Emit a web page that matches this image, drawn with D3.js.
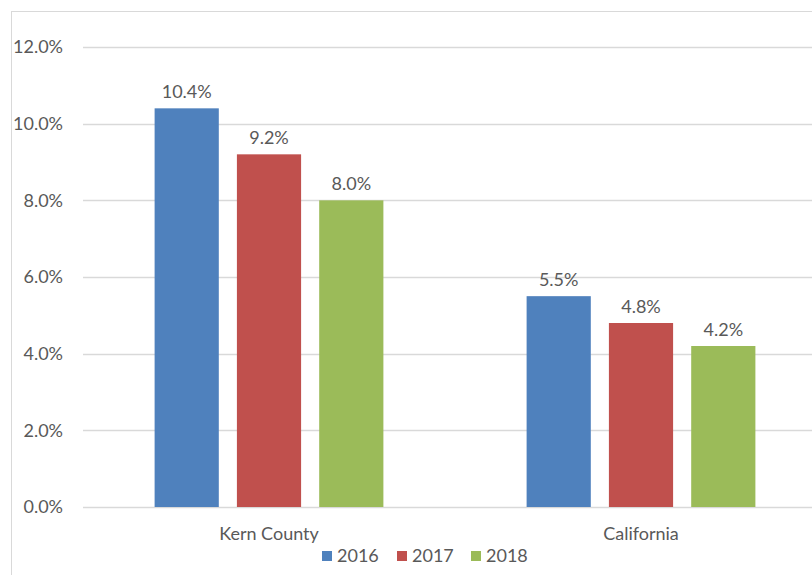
<!DOCTYPE html>
<html>
<head>
<meta charset="utf-8">
<script src="https://cdn.jsdelivr.net/npm/d3@7"></script>
<style>
  body { margin: 0; background: #fff; }
  text { font-family: Lato, "Open Sans", sans-serif; fill: #595959; }
</style>
</head>
<body>
<svg id="chart" width="812" height="575"></svg>
<script>
const categories = ["Kern County", "California"];
const years = ["2016", "2017", "2018"];
const values2016 = [10.4, 5.5];
const values2017 = [9.2, 4.8];
const values2018 = [8.0, 4.2];
const yTicks = [0, 2, 4, 6, 8, 10, 12];
const colors = ["#4f81bd", "#c0504d", "#9bbb59"];

const series = [values2016, values2017, values2018];
const rows = categories.map((c, i) => ({
  cat: c,
  vals: years.map((y, j) => ({ year: y, v: series[j][i], c: colors[j] }))
}));

const svg = d3.select("#chart");

// chart area border (runs past the right/bottom edges)
svg.append("rect")
  .attr("x", 11.5).attr("y", 11.5)
  .attr("width", 830).attr("height", 600)
  .attr("fill", "none").attr("stroke", "#d9d9d9");

const plotLeft = 83, plotRight = 827, plotTop = 47, plotBottom = 507;

const y = d3.scaleLinear().domain([0, 12]).range([plotBottom, plotTop]);
const x0 = d3.scaleBand().domain(categories).range([plotLeft, plotRight])
  .paddingInner(0.385).paddingOuter(0.1925);
const x1 = d3.scaleBand().domain(years).range([0, x0.bandwidth()])
  .paddingInner(0.22).paddingOuter(0);

// gridlines
svg.append("g")
  .selectAll("line")
  .data(yTicks)
  .join("line")
  .attr("x1", plotLeft).attr("x2", 812)
  .attr("y1", d => Math.round(y(d)) + 0.5)
  .attr("y2", d => Math.round(y(d)) + 0.5)
  .attr("stroke", "#d9d9d9").attr("stroke-width", 1.3);

// y tick labels
svg.append("g")
  .selectAll("text")
  .data(yTicks)
  .join("text")
  .attr("x", 63)
  .attr("y", d => y(d))
  .attr("dy", "0.35em")
  .attr("text-anchor", "end")
  .attr("font-size", 18)
  .text(d => d.toFixed(1) + "%");

// bars
const groups = svg.append("g")
  .selectAll("g")
  .data(rows)
  .join("g")
  .attr("transform", d => `translate(${x0(d.cat)},0)`);

groups.selectAll("rect")
  .data(d => d.vals)
  .join("rect")
  .attr("x", d => x1(d.year))
  .attr("y", d => y(d.v))
  .attr("width", x1.bandwidth())
  .attr("height", d => y(0) - y(d.v))
  .attr("fill", d => d.c);

groups.selectAll("text")
  .data(d => d.vals)
  .join("text")
  .attr("x", d => x1(d.year) + x1.bandwidth() / 2)
  .attr("y", d => y(d.v) - 10)
  .attr("text-anchor", "middle")
  .attr("font-size", 18)
  .text(d => d.v.toFixed(1) + "%");

// category labels
svg.append("g")
  .selectAll("text")
  .data(categories)
  .join("text")
  .attr("x", d => x0(d) + x0.bandwidth() / 2)
  .attr("y", 540)
  .attr("text-anchor", "middle")
  .attr("font-size", 18)
  .text(d => d);

// legend
const legendX = [322, 397, 471];
const legend = svg.append("g")
  .selectAll("g")
  .data(years)
  .join("g")
  .attr("transform", (d, i) => `translate(${legendX[i]},551)`);

legend.append("rect")
  .attr("width", 10).attr("height", 10)
  .attr("fill", (d, i) => colors[i]);

legend.append("text")
  .attr("x", 15).attr("y", 5)
  .attr("dy", "0.35em")
  .attr("font-size", 18)
  .text(d => d);
</script>
</body>
</html>
